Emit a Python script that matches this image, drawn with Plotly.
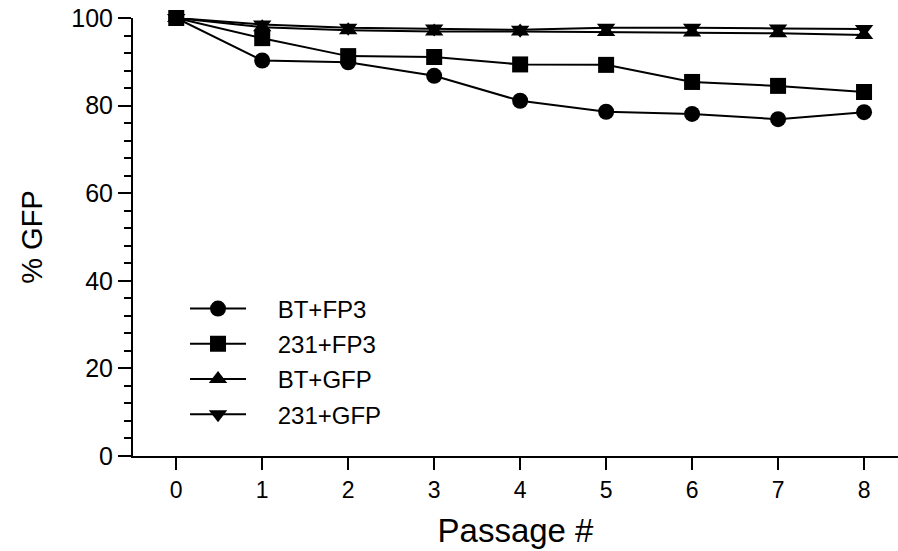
import plotly.graph_objects as go

passage = [0, 1, 2, 3, 4, 5, 6, 7, 8]
bt_fp3 = [100, 90.3, 89.9, 86.8, 81.1, 78.6, 78.1, 76.9, 78.5]
mda_fp3 = [100, 95.4, 91.3, 91.1, 89.4, 89.3, 85.4, 84.5, 83.1]
bt_gfp = [100, 97.9, 97.2, 96.9, 96.9, 96.8, 96.7, 96.5, 96.1]
mda_gfp = [100, 98.5, 97.8, 97.6, 97.3, 97.8, 97.8, 97.6, 97.5]

series = [
    ("BT+FP3", bt_fp3, "circle"),
    ("231+FP3", mda_fp3, "square"),
    ("BT+GFP", bt_gfp, "triangle-up"),
    ("231+GFP", mda_gfp, "triangle-down"),
]

FONT = "Liberation Sans, Arial, sans-serif"
PAD = "\u00a0\u00a0\u00a0\u00a0"

fig = go.Figure()
for i, (name, vals, sym) in enumerate(series):
    fig.add_trace(go.Scatter(
        x=passage, y=vals, name=PAD + name, mode="lines+markers",
        line=dict(color="black", width=2),
        marker=dict(symbol=sym, size=16, color="black"),
        cliponaxis=False, legendgroup=f"g{i}",
    ))

fig.update_layout(
    width=898, height=551,
    margin=dict(l=133, r=0, t=18, b=95),
    paper_bgcolor="white", plot_bgcolor="white",
    font=dict(family=FONT, color="black", size=23),
    showlegend=True,
    legend=dict(
        x=0.068, y=0.387, xanchor="left", yanchor="top",
        bgcolor="rgba(0,0,0,0)", font=dict(size=24, family=FONT),
        itemwidth=56, traceorder="grouped", tracegroupgap=1,
    ),
    xaxis=dict(
        range=[-0.503, 8.395], tickmode="array", tickvals=passage,
        ticks="outside", ticklen=12, tickwidth=2, tickcolor="black",
        showline=True, linecolor="black", linewidth=2,
        showgrid=False, zeroline=False,
        tickfont=dict(size=23, family=FONT),
        title=dict(text="Passage #", font=dict(size=33, family=FONT), standoff=17),
    ),
    yaxis=dict(
        range=[0, 100], tickmode="array", tickvals=[0, 20, 40, 60, 80, 100],
        ticks="outside", ticklen=13, tickwidth=2, tickcolor="black",
        showline=True, linecolor="black", linewidth=2,
        showgrid=False, zeroline=False,
        tickfont=dict(size=25, family=FONT),
        minor=dict(dtick=4, tick0=0, ticks="outside", ticklen=7, tickwidth=2, tickcolor="black", showgrid=False),
        title=dict(text="% GFP", font=dict(size=29, family=FONT), standoff=20),
    ),
)

fig.write_html("out.html")
